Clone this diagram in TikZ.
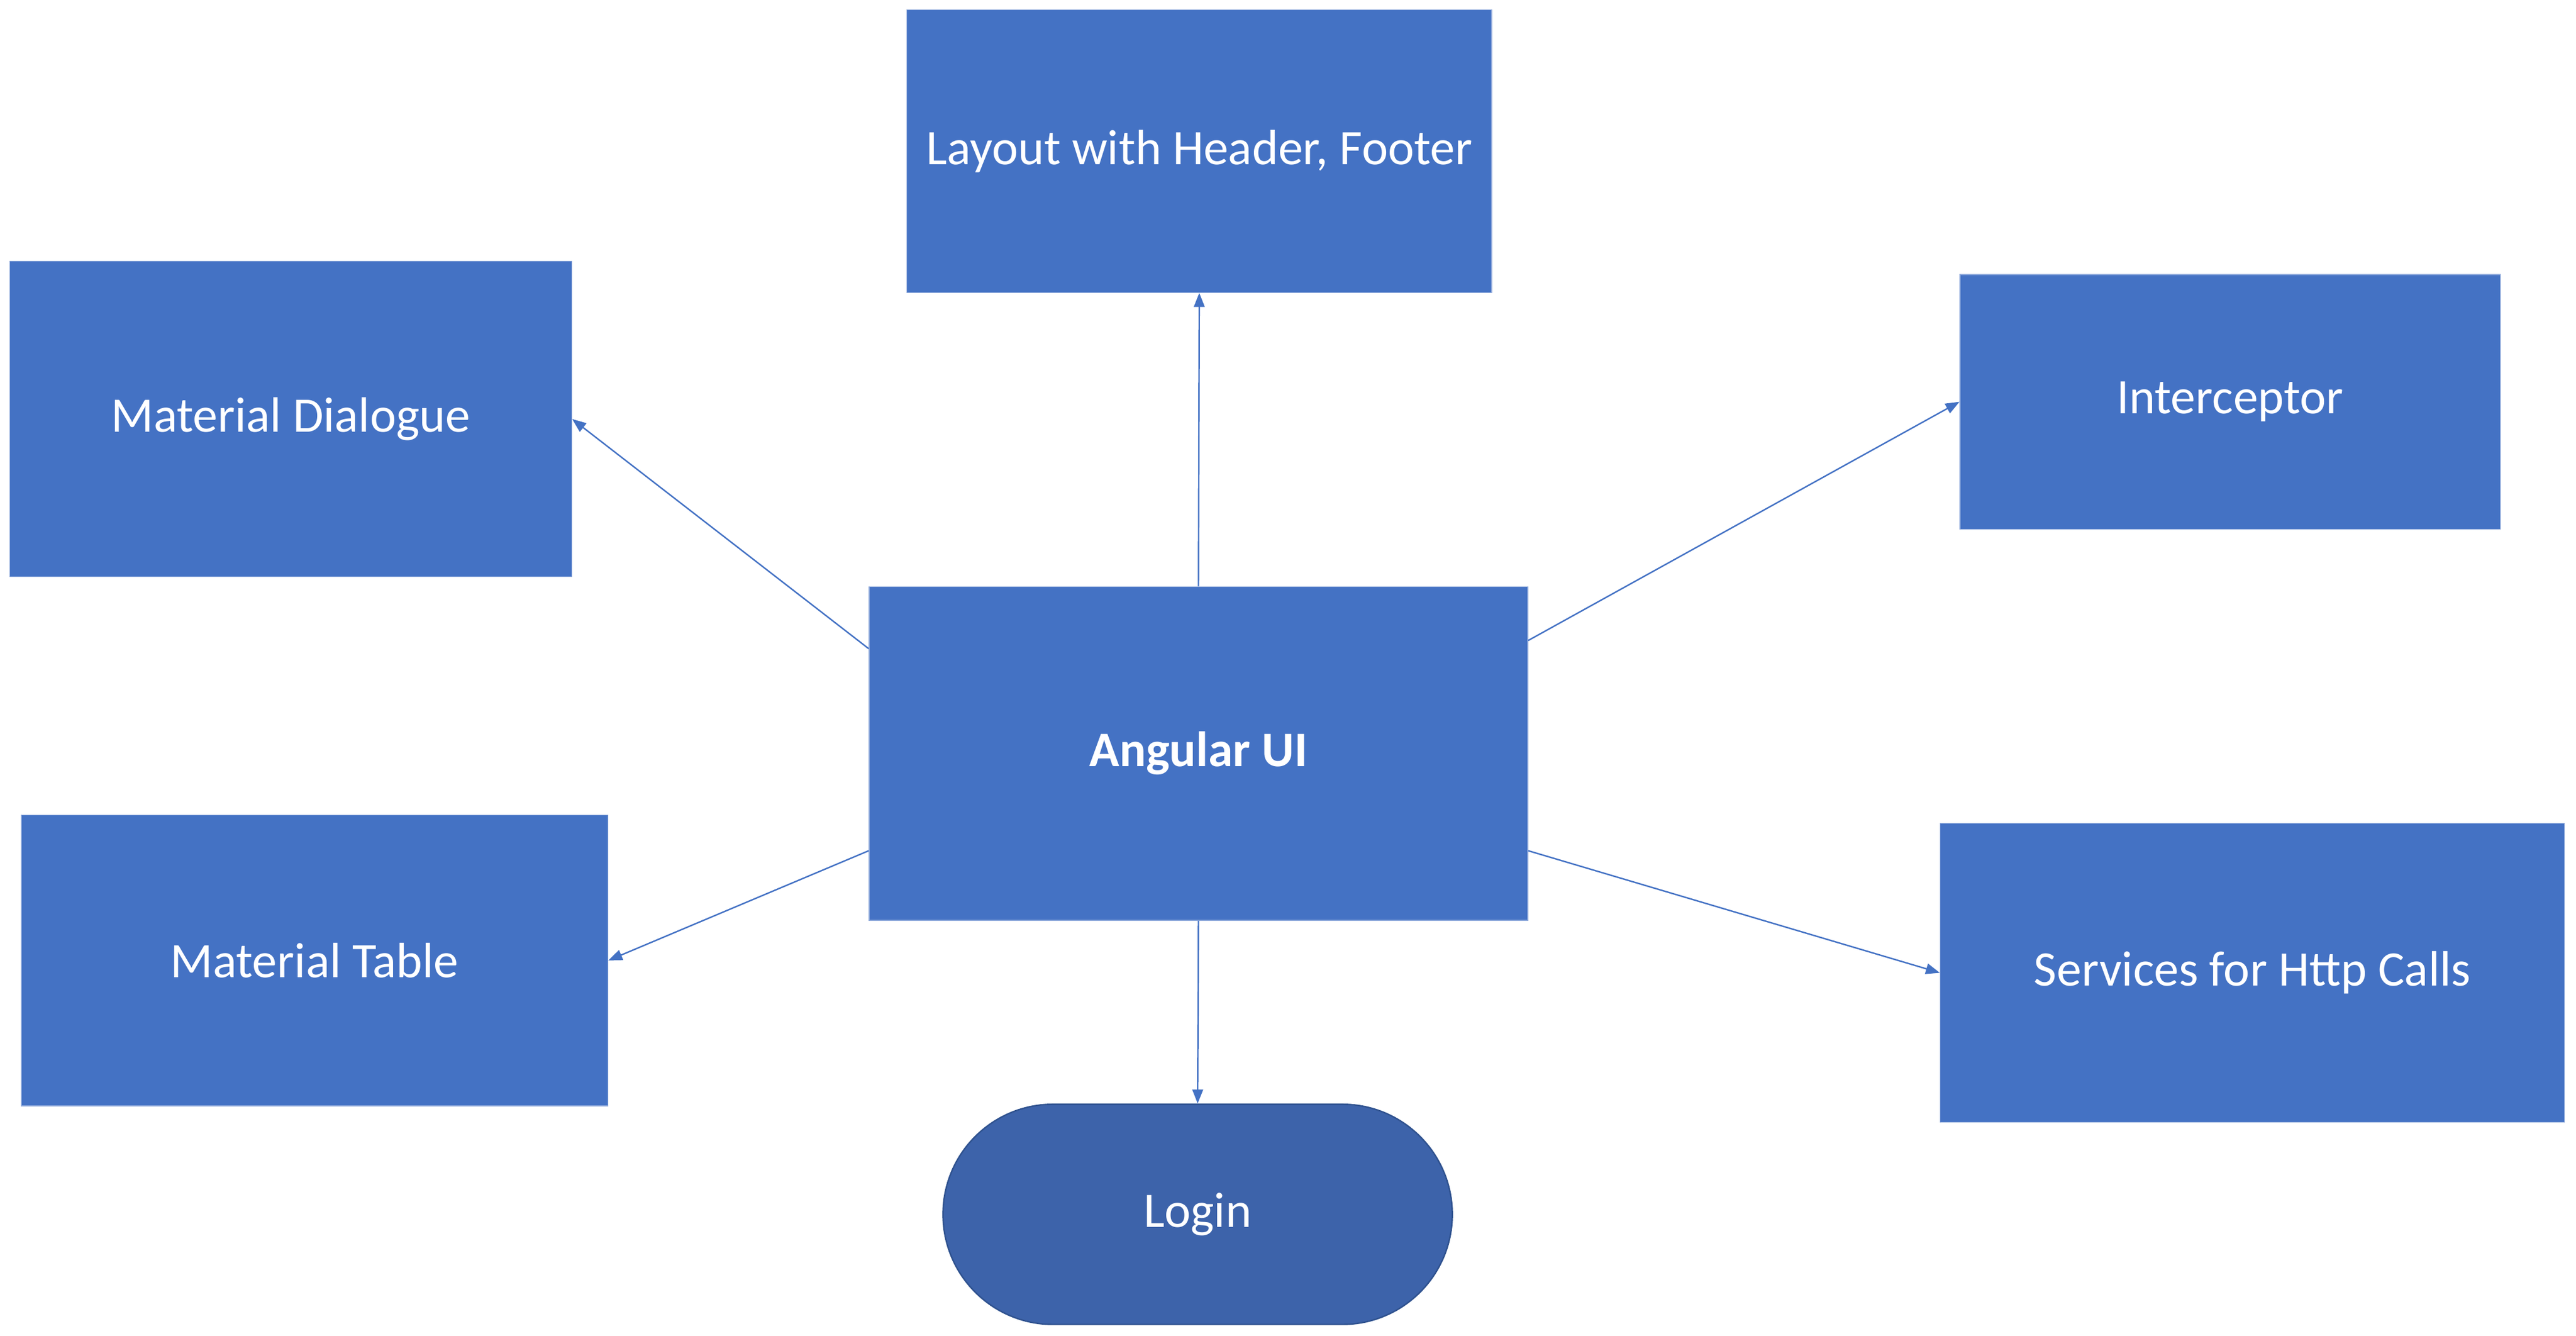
\documentclass[tikz,border=0pt]{standalone}
\usepackage{fontspec}
\setmainfont{Carlito}
\usepackage{tikz}
\usetikzlibrary{arrows.meta,calc,positioning}
\definecolor{kasten}{HTML}{4472C4}
\definecolor{kastenrand}{HTML}{8EA9DB}
\definecolor{loginblau}{HTML}{3D63AA}
\definecolor{loginrand}{HTML}{2F528F}

\begin{document}
\begin{tikzpicture}[x=0.2mm,y=-0.2mm,
  kastenstil/.style={rectangle,fill=kasten,draw=kastenrand,line width=0.3pt,inner sep=0pt,
    text=white,font=\fontsize{17.2}{20}\selectfont},
  pfeil/.style={draw=kasten,line width=0.5pt,-{Triangle[length=1.7mm,width=1.3mm]}}]
%Rahmen wie im Original
\useasboundingbox (0,0) rectangle (1568,813);
\node[kastenstil,minimum width=356*0.2mm,minimum height=172*0.2mm] (layout) at (730,92) {Layout with Header, Footer};
\node[kastenstil,minimum width=342*0.2mm,minimum height=192*0.2mm] (dialog) at (177,255) {Material Dialogue};
\node[kastenstil,minimum width=329*0.2mm,minimum height=155*0.2mm] (inter) at (1357.5,244.5) {Interceptor};
\node[kastenstil,minimum width=401*0.2mm,minimum height=203*0.2mm,font=\fontsize{17.2}{20}\selectfont\bfseries] (ui) at (729.5,458.5) {Angular UI};
\node[kastenstil,minimum width=357*0.2mm,minimum height=177*0.2mm] (tabelle) at (191.5,584.5) {Material Table};
\node[kastenstil,minimum width=380*0.2mm,minimum height=182*0.2mm] (service) at (1371,592) {Services for Http Calls};
\node[kastenstil,fill=loginblau,draw=loginrand,line width=0.5pt,rounded corners=13.4mm,
  minimum width=310*0.2mm,minimum height=134*0.2mm] (login) at (729,739) {Login};
%Startpunkte am Rand von Angular UI
\coordinate (uiDialog) at ($(ui.north west)+(0,38)$);
\coordinate (uiTabelle) at ($(ui.north west)+(0,161)$);
\coordinate (uiInter) at ($(ui.north east)+(0,33)$);
\coordinate (uiService) at ($(ui.north east)+(0,161)$);
\foreach \von/\nach in {ui.north/layout.south,uiDialog/dialog.east,uiTabelle/tabelle.east,uiInter/inter.west,uiService/service.west,ui.south/login.north}{
\draw[pfeil] (\von) -- (\nach);
}
\end{tikzpicture}
\end{document}
